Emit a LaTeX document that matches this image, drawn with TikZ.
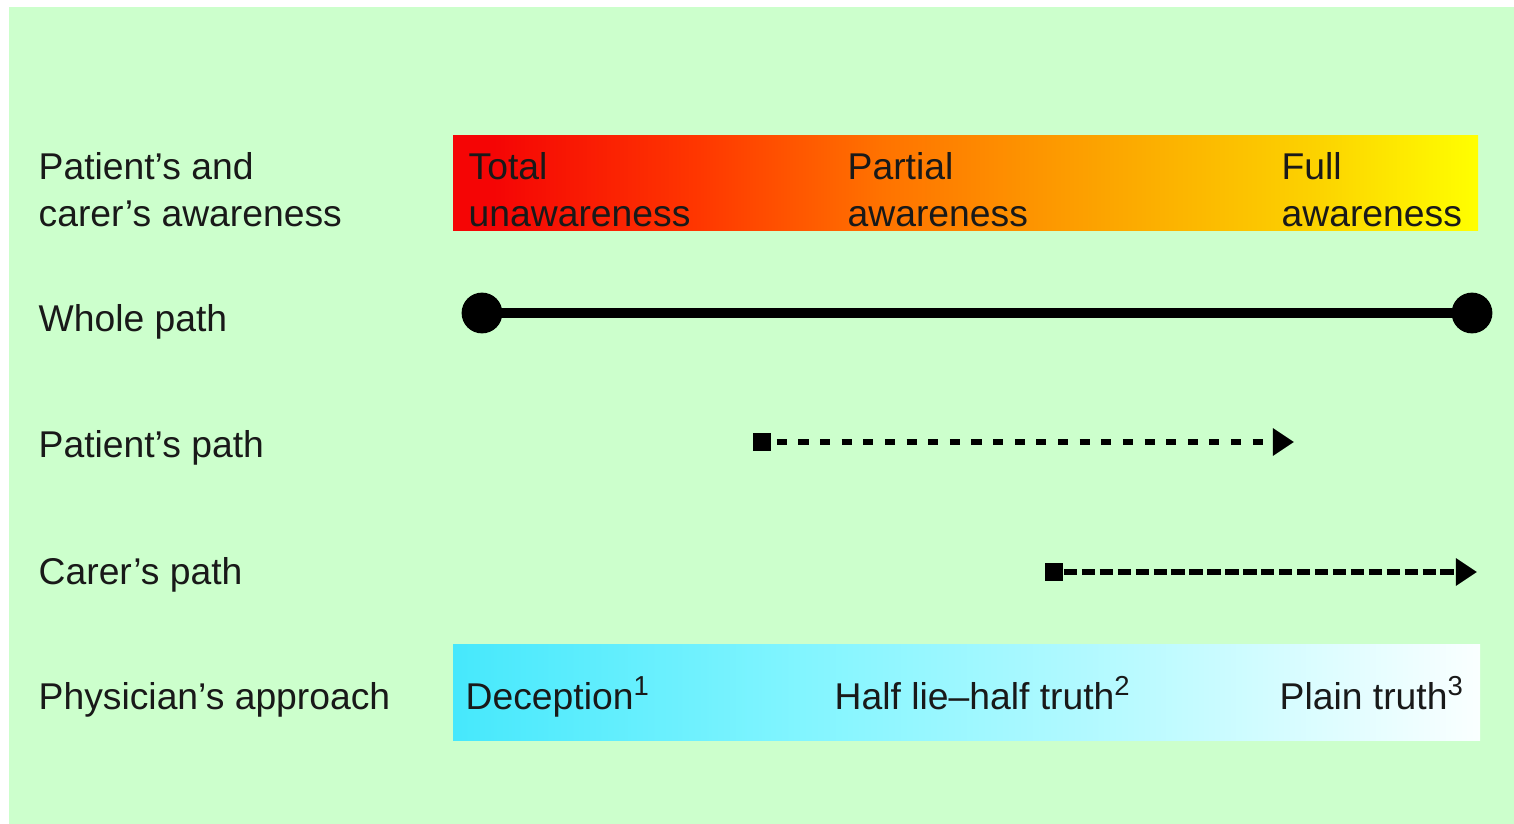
\documentclass[tikz,border=0pt]{standalone}
\usepackage{fontspec}
\setmainfont{Liberation Sans}
\usetikzlibrary{arrows.meta}
\definecolor{bg}{RGB}{204,255,204}
\definecolor{aw1}{RGB}{245,5,5}
\definecolor{aw2}{RGB}{255,55,0}
\definecolor{aw3}{RGB}{255,115,0}
\definecolor{aw4}{RGB}{252,170,0}
\definecolor{aw5}{RGB}{252,210,0}
\definecolor{aw6}{RGB}{255,255,0}
\definecolor{ph1}{RGB}{70,232,252}
\definecolor{ph2}{RGB}{130,245,255}
\definecolor{ph3}{RGB}{185,250,255}
\definecolor{ph4}{RGB}{250,255,255}
\pgfdeclarehorizontalshading{awareness}{100bp}{color(0bp)=(aw1); color(25bp)=(aw1); color(27bp)=(aw1); color(37bp)=(aw2); color(46bp)=(aw3); color(58bp)=(aw4); color(67bp)=(aw5); color(75bp)=(aw6); color(100bp)=(aw6)}
\pgfdeclarehorizontalshading{approach}{100bp}{color(0bp)=(ph1); color(25bp)=(ph1); color(42bp)=(ph2); color(58bp)=(ph3); color(75bp)=(ph4); color(100bp)=(ph4)}
\newcommand{\supnum}[1]{\raisebox{0.36em}{\fontsize{7.8pt}{8pt}\selectfont #1}}
\tikzset{
  lbl/.style={anchor=base west, inner sep=0pt, align=left, font=\fontsize{10.6pt}{13.1pt}\selectfont, text=black!90},
  dotend/.style={circle, fill=black, minimum size=11.6pt, inner sep=0pt},
  sqend/.style={rectangle, fill=black, minimum size=5.2pt, inner sep=0pt},
}
\begin{document}
\begin{tikzpicture}[x=0.01cm, y=-0.01cm]
\useasboundingbox (0,0) rectangle (1514,824);
\fill[bg] (9,7) rectangle (1514,824);
% bars
\path[shading=awareness] (453,135) rectangle (1478,230);
\path[shading=approach] (453,644) rectangle (1480,740);
% left labels
\node[lbl] (l1) at (38,226) {Patient’s and\\carer’s awareness};
\node[lbl] (l2) at (38,331) {Whole path};
\node[lbl] (l3) at (38,457) {Patient’s path};
\node[lbl] (l4) at (38,584) {Carer’s path};
\node[lbl] (l5) at (38,709) {Physician’s approach};
% top bar labels
\node[lbl] (t1) at (468,226) {Total\\unawareness};
\node[lbl] (t2) at (847,226) {Partial\\awareness};
\node[lbl] (t3) at (1281,226) {Full\\awareness};
% bottom bar labels
\node[lbl] (b1) at (465,709) {Deception\supnum{1}};
\node[lbl] (b2) at (834,709) {Half lie–half truth\supnum{2}};
\node[lbl] (b3) at (1279,709) {Plain truth\supnum{3}};
% whole path
\node[dotend] (w1) at (482,313) {};
\node[dotend] (w2) at (1472,313) {};
\draw[line width=2.8pt] (w1.center) -- (w2.center);
% patient's path
\node[sqend] (p1) at (762,442) {};
\coordinate (p2) at (1294,442);
\draw[line width=1.6pt, dash pattern=on 2.85pt off 3.3pt, -{Triangle[length=6pt,width=7.5pt]}] (p1.east) ++(5,0) -- (p2);
% carer's path
\node[sqend] (c1) at (1054,572) {};
\coordinate (c2) at (1477,572);
\draw[line width=1.6pt, dash pattern=on 3.8pt off 1.3pt, -{Triangle[length=6pt,width=7.5pt]}] (c1.east) -- (c2);
\end{tikzpicture}
\end{document}
